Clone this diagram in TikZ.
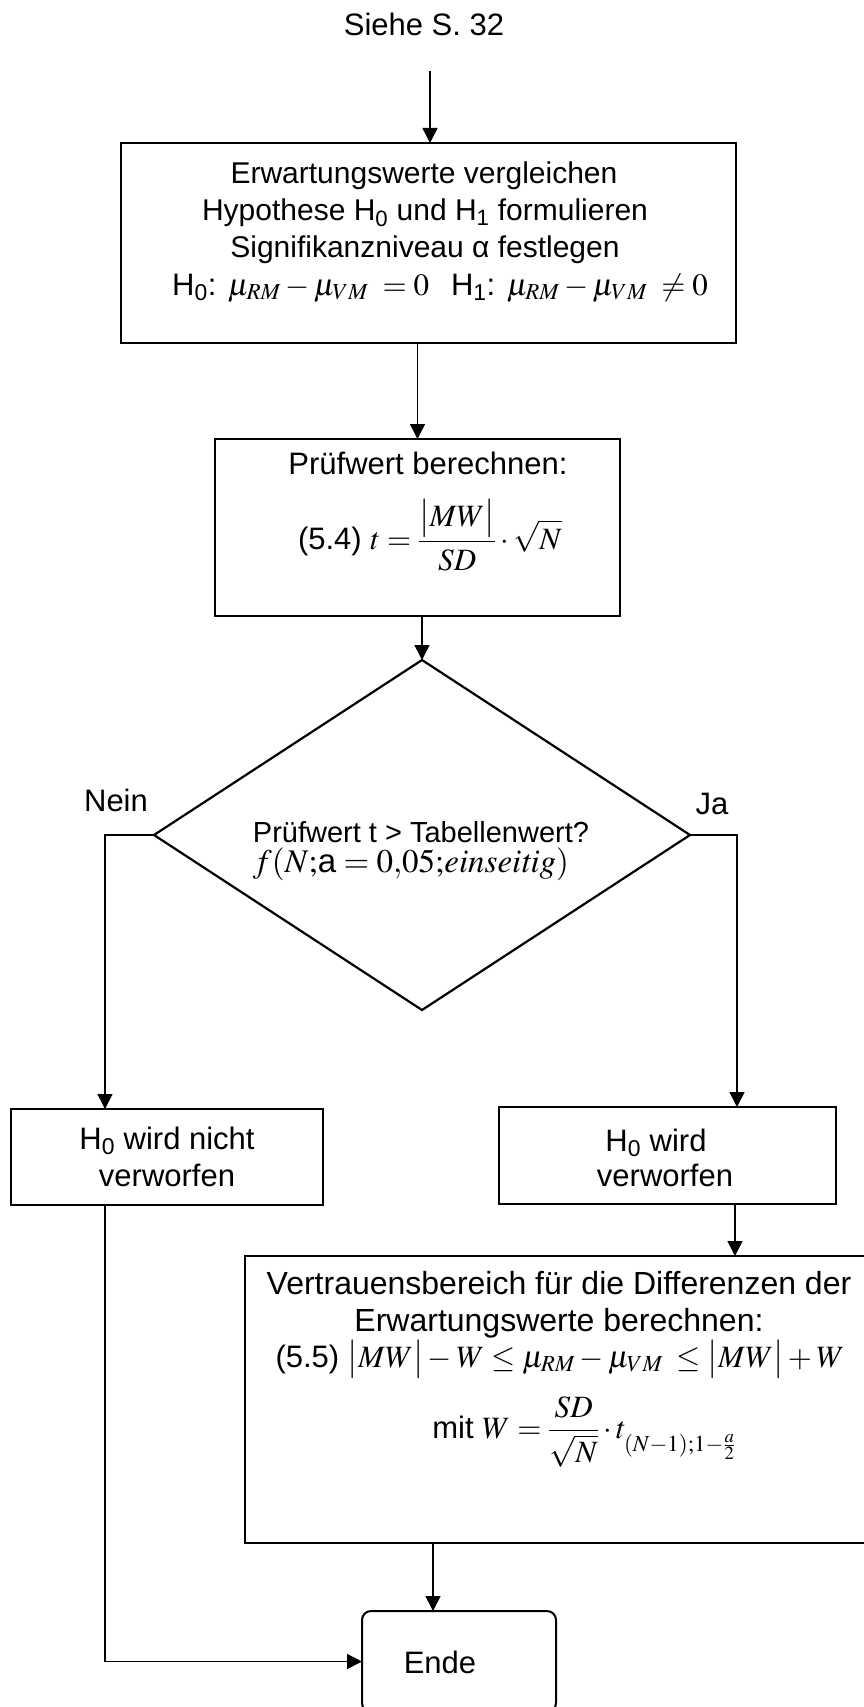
\documentclass[tikz,border=0pt]{standalone}
\usepackage{mathptmx}
\usepackage[no-math]{fontspec}
\setmainfont{Liberation Sans}
\usetikzlibrary{shapes.geometric,arrows.meta}
\begin{document}
\begin{tikzpicture}[x=1pt,y=-1pt,
  every node/.style={font=\fontsize{31}{37}\selectfont, inner sep=0pt, outer sep=0pt},
  box/.style={draw, line width=2pt, rectangle},
  endbox/.style={draw, line width=2pt, rectangle, rounded corners=9pt},
  dec/.style={draw, line width=2.2pt, diamond},
  arr/.style={line width=1.5pt, -{Triangle[length=15pt,width=15pt]}},
  txt/.style={anchor=base, align=center},
  lbl/.style={anchor=base}]
\useasboundingbox (0,0) rectangle (863,1707);
\fill[white] (0,0) rectangle (863,1707);

% text on top
\node[txt] (siehe) at (424,36) {Siehe S. 32};
\coordinate (start) at (430,71);

% boxes
\node[box, minimum width=615pt, minimum height=200pt] (b1) at (428.5,243) {};
\node[box, minimum width=405pt, minimum height=177pt] (b2) at (417.5,527.5) {};
\node[dec, minimum width=536pt, minimum height=350pt] (dia) at (422,835) {};
\node[box, minimum width=312pt, minimum height=96pt] (b3) at (167,1157) {};
\node[box, minimum width=337pt, minimum height=97pt] (b4) at (667.5,1155.5) {};
\node[box, minimum width=630pt, minimum height=287pt] (b5) at (560,1399.5) {};
\node[endbox, minimum width=194pt, minimum height=101pt] (ende) at (459,1661.5) {};

% box texts
\node[txt, font=\fontsize{30}{36}\selectfont] (t11) at (424,184) {Erwartungswerte vergleichen};
\node[txt, font=\fontsize{30}{36}\selectfont] (t12) at (425,221) {Hypothese H\textsubscript{0} und H\textsubscript{1} formulieren};
\node[txt, font=\fontsize{30}{36}\selectfont] (t13) at (425,257) {Signifikanzniveau α festlegen};
\node[txt] (t14) at (440,295) {H\textsubscript{0}: $\mu_{RM}-\mu_{VM}\;=0$\hspace{22pt}H\textsubscript{1}: $\mu_{RM}-\mu_{VM}\;\neq 0$};

\node[txt] (t21) at (428,474) {Prüfwert berechnen:};
\node[txt] (t22) at (430,549) {(5.4) $t=\displaystyle\frac{\bigl|MW\bigr|}{SD}\cdot\sqrt{N}$};

\node[txt, font=\fontsize{29}{35}\selectfont] (t31) at (421,842) {Prüfwert t > Tabellenwert?};
\node[txt, font=\fontsize{33}{39}\selectfont] (t32) at (411,872) {$f(N\mathord{;}\mbox{a}=0{,}05\mathord{;}\mathit{einseitig})$};

\node[lbl] (nein) at (116,811) {Nein};
\node[lbl] (ja) at (712,814) {Ja};

\node[txt] (t41) at (167,1149) {H\textsubscript{0} wird nicht};
\node[txt] (t42) at (167,1186) {verworfen};
\node[txt] (t51) at (656,1151) {H\textsubscript{0} wird};
\node[txt] (t52) at (665,1186) {verworfen};

\node[txt, font=\fontsize{32}{38}\selectfont] (t61) at (559,1294) {Vertrauensbereich für die Differenzen der};
\node[txt, font=\fontsize{32}{38}\selectfont] (t62) at (559,1331) {Erwartungswerte berechnen:};
\node[txt] (t63) at (560,1367) {(5.5) $\bigl|MW\bigr|-W\le\mu_{RM}-\mu_{VM}\;\le\bigl|MW\bigr|+W$};
\node[txt] (t64) at (584,1438) {mit $W=\displaystyle\frac{SD}{\sqrt{N}}\cdot t_{\raisebox{-9pt}{$\scriptstyle(N-1);1-\frac{a}{2}$}}$};

\node[txt] (t71) at (440,1673) {Ende};

% connectors
\draw[arr] (start) -- (start |- b1.north);
\draw[arr] (b2.north |- b1.south) -- (b2.north);
\draw[arr] (dia.north |- b2.south) -- (dia.north);
\coordinate (b3in) at ([xshift=94pt]b3.north west);
\draw[arr] (dia.west) -| (b3in);
\coordinate (b4in) at ([xshift=238pt]b4.north west);
\draw[arr] (dia.east) -| (b4in);
\coordinate (b4out) at ([xshift=236pt]b4.south west);
\draw[arr] (b4out) -- (b4out |- b5.north);
\coordinate (endin) at ([xshift=71pt]ende.north west);
\draw[arr] (endin |- b5.south) -- (endin);
\coordinate (b3out) at ([xshift=94pt]b3.south west);
\draw[arr] (b3out) |- (ende.west);
\end{tikzpicture}
\end{document}
